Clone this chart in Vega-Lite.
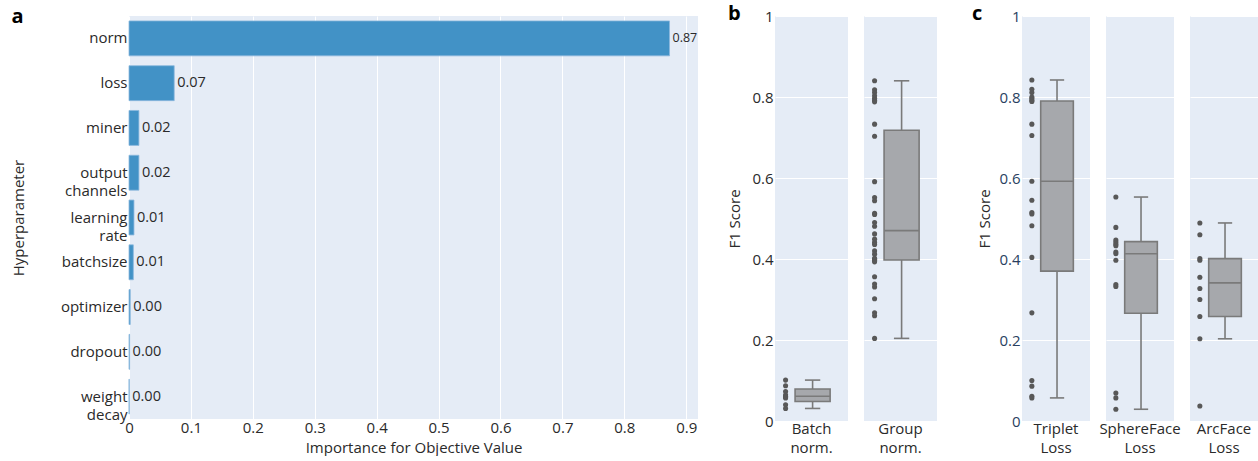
{
  "$schema": "https://vega.github.io/schema/vega-lite/v6.json",
  "background": "white",
  "padding": {"left": 11, "top": 4, "right": 0, "bottom": 0},
  "config": {
    "font": "Open Sans",
    "view": {"fill": "#e5ecf6", "stroke": null},
    "axis": {"labelFont": "Open Sans", "titleFont": "Open Sans", "labelFontSize": 15, "titleFontSize": 15, "labelColor": "#2a2a2a", "titleColor": "#2a2a2a", "domain": false, "ticks": false, "gridColor": "white", "gridWidth": 1, "titleFontWeight": "normal", "labelFlush": false, "labelOverlap": false},
    "title": {"font": "Open Sans", "fontSize": 20, "fontWeight": "bold", "anchor": "start", "frame": "bounds", "color": "black"}
  },
  "spacing": 29,
  "hconcat": [
    {
      "title": {"text": "a", "offset": -11},
      "width": 569,
      "height": 403,
      "data": {"values": [
        {"param": "norm", "importance": 0.873},
        {"param": "loss", "importance": 0.073},
        {"param": "miner", "importance": 0.016},
        {"param": "output channels", "importance": 0.016},
        {"param": "learning rate", "importance": 0.008},
        {"param": "batchsize", "importance": 0.007},
        {"param": "optimizer", "importance": 0.002},
        {"param": "dropout", "importance": 0.001},
        {"param": "weight decay", "importance": 0.0004}
      ]},
      "encoding": {
        "y": {"field": "param", "type": "nominal", "sort": null, "scale": {"paddingInner": 0.22, "paddingOuter": 0.11}, "axis": {"title": "Hyperparameter", "labelExpr": "split(datum.label, ' ')", "labelPadding": 2, "titlePadding": 34, "grid": false, "labelLineHeight": 18}}
      },
      "layer": [
        {
          "mark": {"type": "bar", "color": "#4292c6", "stroke": "#8ab8dd", "strokeWidth": 0.8},
          "encoding": {
            "x": {"field": "importance", "type": "quantitative", "scale": {"domain": [0, 0.919], "nice": false}, "axis": {"title": "Importance for Objective Value", "values": [0, 0.1, 0.2, 0.3, 0.4, 0.5, 0.6, 0.7, 0.8, 0.9], "format": "~g", "grid": true, "labelPadding": 1, "titlePadding": 5}}
          }
        },
        {
          "mark": {"type": "text", "align": "left", "baseline": "middle", "dx": 3, "color": "#2a2a2a", "font": "Open Sans"},
          "encoding": {
            "x": {"field": "importance", "type": "quantitative"},
            "text": {"field": "importance", "format": ".2f"},
            "size": {"condition": {"test": "datum.importance > 0.5", "value": 12.5}, "value": 14.5}
          }
        }
      ]
    },
    {
      "spacing": 34,
      "hconcat": [
        {
          "title": {"text": "b", "offset": -15},
          "data": {"values": [
            {"group": "Batch norm.", "kind": "run", "f1": 0.101},
            {"group": "Batch norm.", "kind": "run", "f1": 0.087},
            {"group": "Batch norm.", "kind": "run", "f1": 0.073},
            {"group": "Batch norm.", "kind": "run", "f1": 0.064},
            {"group": "Batch norm.", "kind": "run", "f1": 0.060},
            {"group": "Batch norm.", "kind": "run", "f1": 0.059},
            {"group": "Batch norm.", "kind": "run", "f1": 0.057},
            {"group": "Batch norm.", "kind": "run", "f1": 0.040},
            {"group": "Batch norm.", "kind": "run", "f1": 0.031},
            {"group": "Batch norm.", "kind": "box", "lo": 0.031, "q1": 0.048, "med": 0.061, "q3": 0.079, "hi": 0.101},
            {"group": "Group norm.", "kind": "run", "f1": 0.840},
            {"group": "Group norm.", "kind": "run", "f1": 0.818},
            {"group": "Group norm.", "kind": "run", "f1": 0.811},
            {"group": "Group norm.", "kind": "run", "f1": 0.803},
            {"group": "Group norm.", "kind": "run", "f1": 0.797},
            {"group": "Group norm.", "kind": "run", "f1": 0.792},
            {"group": "Group norm.", "kind": "run", "f1": 0.788},
            {"group": "Group norm.", "kind": "run", "f1": 0.733},
            {"group": "Group norm.", "kind": "run", "f1": 0.703},
            {"group": "Group norm.", "kind": "run", "f1": 0.591},
            {"group": "Group norm.", "kind": "run", "f1": 0.552},
            {"group": "Group norm.", "kind": "run", "f1": 0.544},
            {"group": "Group norm.", "kind": "run", "f1": 0.513},
            {"group": "Group norm.", "kind": "run", "f1": 0.510},
            {"group": "Group norm.", "kind": "run", "f1": 0.490},
            {"group": "Group norm.", "kind": "run", "f1": 0.481},
            {"group": "Group norm.", "kind": "run", "f1": 0.462},
            {"group": "Group norm.", "kind": "run", "f1": 0.449},
            {"group": "Group norm.", "kind": "run", "f1": 0.441},
            {"group": "Group norm.", "kind": "run", "f1": 0.436},
            {"group": "Group norm.", "kind": "run", "f1": 0.420},
            {"group": "Group norm.", "kind": "run", "f1": 0.412},
            {"group": "Group norm.", "kind": "run", "f1": 0.402},
            {"group": "Group norm.", "kind": "run", "f1": 0.399},
            {"group": "Group norm.", "kind": "run", "f1": 0.396},
            {"group": "Group norm.", "kind": "run", "f1": 0.393},
            {"group": "Group norm.", "kind": "run", "f1": 0.356},
            {"group": "Group norm.", "kind": "run", "f1": 0.338},
            {"group": "Group norm.", "kind": "run", "f1": 0.331},
            {"group": "Group norm.", "kind": "run", "f1": 0.302},
            {"group": "Group norm.", "kind": "run", "f1": 0.267},
            {"group": "Group norm.", "kind": "run", "f1": 0.260},
            {"group": "Group norm.", "kind": "run", "f1": 0.204},
            {"group": "Group norm.", "kind": "box", "lo": 0.204, "q1": 0.3975, "med": 0.470, "q3": 0.718, "hi": 0.840}
          ]},
          "facet": {"column": {"field": "group", "type": "nominal", "sort": ["Batch norm.", "Group norm."], "header": {"title": null, "labelOrient": "bottom", "labelExpr": "split(datum.label, ' ')", "labelFontSize": 15, "labelFont": "Open Sans", "labelColor": "#2a2a2a", "labelPadding": 1, "labelBaseline": "top", "labelLineHeight": 19}}},
          "spacing": 16,
          "spec": {
            "width": 73,
            "height": 405,
            "layer": [
              {
                "transform": [{"filter": "datum.kind === 'box'"}],
                "mark": {"type": "rule", "color": "#7a7a7a", "strokeWidth": 1.6},
                "encoding": {
                  "x": {"datum": 0.515, "type": "quantitative", "scale": {"domain": [0, 1], "nice": false}, "axis": null},
                  "y": {"field": "lo", "type": "quantitative", "scale": {"domain": [0, 1], "nice": false}, "axis": {"title": "F1 Score", "values": [0, 0.2, 0.4, 0.6, 0.8, 1], "format": "~g", "grid": true, "labelPadding": 2, "titlePadding": 9}},
                  "y2": {"field": "hi"}
                }
              },
              {
                "transform": [{"filter": "datum.kind === 'box'"}],
                "mark": {"type": "rule", "color": "#7a7a7a", "strokeWidth": 1.6},
                "encoding": {
                  "x": {"datum": 0.41, "type": "quantitative", "scale": {"domain": [0, 1], "nice": false}, "axis": null},
                  "x2": {"datum": 0.62},
                  "y": {"field": "hi", "type": "quantitative", "scale": {"domain": [0, 1], "nice": false}, "axis": {"title": "F1 Score", "values": [0, 0.2, 0.4, 0.6, 0.8, 1], "format": "~g", "grid": true, "labelPadding": 2, "titlePadding": 9}}
                }
              },
              {
                "transform": [{"filter": "datum.kind === 'box'"}],
                "mark": {"type": "rule", "color": "#7a7a7a", "strokeWidth": 1.6},
                "encoding": {
                  "x": {"datum": 0.41, "type": "quantitative", "scale": {"domain": [0, 1], "nice": false}, "axis": null},
                  "x2": {"datum": 0.62},
                  "y": {"field": "lo", "type": "quantitative", "scale": {"domain": [0, 1], "nice": false}, "axis": {"title": "F1 Score", "values": [0, 0.2, 0.4, 0.6, 0.8, 1], "format": "~g", "grid": true, "labelPadding": 2, "titlePadding": 9}}
                }
              },
              {
                "transform": [{"filter": "datum.kind === 'box'"}],
                "mark": {"type": "bar", "fill": "#a6a8ac", "stroke": "#7a7a7a", "strokeWidth": 1.6},
                "encoding": {
                  "x": {"datum": 0.275, "type": "quantitative", "scale": {"domain": [0, 1], "nice": false}, "axis": null},
                  "x2": {"datum": 0.755},
                  "y": {"field": "q1", "type": "quantitative", "scale": {"domain": [0, 1], "nice": false}, "axis": {"title": "F1 Score", "values": [0, 0.2, 0.4, 0.6, 0.8, 1], "format": "~g", "grid": true, "labelPadding": 2, "titlePadding": 9}},
                  "y2": {"field": "q3"}
                }
              },
              {
                "transform": [{"filter": "datum.kind === 'box'"}],
                "mark": {"type": "rule", "color": "#7a7a7a", "strokeWidth": 1.6},
                "encoding": {
                  "x": {"datum": 0.275, "type": "quantitative", "scale": {"domain": [0, 1], "nice": false}, "axis": null},
                  "x2": {"datum": 0.755},
                  "y": {"field": "med", "type": "quantitative", "scale": {"domain": [0, 1], "nice": false}, "axis": {"title": "F1 Score", "values": [0, 0.2, 0.4, 0.6, 0.8, 1], "format": "~g", "grid": true, "labelPadding": 2, "titlePadding": 9}}
                }
              },
              {
                "transform": [{"filter": "datum.kind === 'run'"}],
                "mark": {"type": "circle", "color": "#585858", "opacity": 1, "size": 26},
                "encoding": {
                  "x": {"datum": 0.145, "type": "quantitative", "scale": {"domain": [0, 1], "nice": false}, "axis": null},
                  "y": {"field": "f1", "type": "quantitative", "scale": {"domain": [0, 1], "nice": false}, "axis": {"title": "F1 Score", "values": [0, 0.2, 0.4, 0.6, 0.8, 1], "format": "~g", "grid": true, "labelPadding": 2, "titlePadding": 9}}
                }
              }
            ]
          }
        },
        {
          "title": {"text": "c", "offset": -15, "dx": -6},
          "data": {"values": [
            {"group": "Triplet Loss", "kind": "run", "f1": 0.842},
            {"group": "Triplet Loss", "kind": "run", "f1": 0.819},
            {"group": "Triplet Loss", "kind": "run", "f1": 0.811},
            {"group": "Triplet Loss", "kind": "run", "f1": 0.800},
            {"group": "Triplet Loss", "kind": "run", "f1": 0.796},
            {"group": "Triplet Loss", "kind": "run", "f1": 0.792},
            {"group": "Triplet Loss", "kind": "run", "f1": 0.789},
            {"group": "Triplet Loss", "kind": "run", "f1": 0.733},
            {"group": "Triplet Loss", "kind": "run", "f1": 0.705},
            {"group": "Triplet Loss", "kind": "run", "f1": 0.592},
            {"group": "Triplet Loss", "kind": "run", "f1": 0.545},
            {"group": "Triplet Loss", "kind": "run", "f1": 0.515},
            {"group": "Triplet Loss", "kind": "run", "f1": 0.511},
            {"group": "Triplet Loss", "kind": "run", "f1": 0.482},
            {"group": "Triplet Loss", "kind": "run", "f1": 0.404},
            {"group": "Triplet Loss", "kind": "run", "f1": 0.267},
            {"group": "Triplet Loss", "kind": "run", "f1": 0.100},
            {"group": "Triplet Loss", "kind": "run", "f1": 0.086},
            {"group": "Triplet Loss", "kind": "run", "f1": 0.061},
            {"group": "Triplet Loss", "kind": "run", "f1": 0.057},
            {"group": "Triplet Loss", "kind": "box", "lo": 0.057, "q1": 0.370, "med": 0.592, "q3": 0.790, "hi": 0.842},
            {"group": "SphereFace Loss", "kind": "run", "f1": 0.553},
            {"group": "SphereFace Loss", "kind": "run", "f1": 0.478},
            {"group": "SphereFace Loss", "kind": "run", "f1": 0.447},
            {"group": "SphereFace Loss", "kind": "run", "f1": 0.442},
            {"group": "SphereFace Loss", "kind": "run", "f1": 0.437},
            {"group": "SphereFace Loss", "kind": "run", "f1": 0.433},
            {"group": "SphereFace Loss", "kind": "run", "f1": 0.417},
            {"group": "SphereFace Loss", "kind": "run", "f1": 0.413},
            {"group": "SphereFace Loss", "kind": "run", "f1": 0.397},
            {"group": "SphereFace Loss", "kind": "run", "f1": 0.337},
            {"group": "SphereFace Loss", "kind": "run", "f1": 0.332},
            {"group": "SphereFace Loss", "kind": "run", "f1": 0.069},
            {"group": "SphereFace Loss", "kind": "run", "f1": 0.057},
            {"group": "SphereFace Loss", "kind": "run", "f1": 0.029},
            {"group": "SphereFace Loss", "kind": "box", "lo": 0.029, "q1": 0.266, "med": 0.413, "q3": 0.443, "hi": 0.553},
            {"group": "ArcFace Loss", "kind": "run", "f1": 0.489},
            {"group": "ArcFace Loss", "kind": "run", "f1": 0.460},
            {"group": "ArcFace Loss", "kind": "run", "f1": 0.401},
            {"group": "ArcFace Loss", "kind": "run", "f1": 0.397},
            {"group": "ArcFace Loss", "kind": "run", "f1": 0.355},
            {"group": "ArcFace Loss", "kind": "run", "f1": 0.327},
            {"group": "ArcFace Loss", "kind": "run", "f1": 0.300},
            {"group": "ArcFace Loss", "kind": "run", "f1": 0.258},
            {"group": "ArcFace Loss", "kind": "run", "f1": 0.203},
            {"group": "ArcFace Loss", "kind": "run", "f1": 0.037},
            {"group": "ArcFace Loss", "kind": "box", "lo": 0.203, "q1": 0.258, "med": 0.341, "q3": 0.401, "hi": 0.489}
          ]},
          "facet": {"column": {"field": "group", "type": "nominal", "sort": ["Triplet Loss", "SphereFace Loss", "ArcFace Loss"], "header": {"title": null, "labelOrient": "bottom", "labelExpr": "split(datum.label, ' ')", "labelFontSize": 15, "labelFont": "Open Sans", "labelColor": "#2a2a2a", "labelPadding": 1, "labelBaseline": "top", "labelLineHeight": 19}}},
          "spacing": 16,
          "spec": {
            "width": 68,
            "height": 405,
            "layer": [
              {
                "transform": [{"filter": "datum.kind === 'box'"}],
                "mark": {"type": "rule", "color": "#7a7a7a", "strokeWidth": 1.6},
                "encoding": {
                  "x": {"datum": 0.515, "type": "quantitative", "scale": {"domain": [0, 1], "nice": false}, "axis": null},
                  "y": {"field": "lo", "type": "quantitative", "scale": {"domain": [0, 1], "nice": false}, "axis": {"title": "F1 Score", "values": [0, 0.2, 0.4, 0.6, 0.8, 1], "format": "~g", "grid": true, "labelPadding": 2, "titlePadding": 6, "labelColor": "#2a3f5f"}},
                  "y2": {"field": "hi"}
                }
              },
              {
                "transform": [{"filter": "datum.kind === 'box'"}],
                "mark": {"type": "rule", "color": "#7a7a7a", "strokeWidth": 1.6},
                "encoding": {
                  "x": {"datum": 0.41, "type": "quantitative", "scale": {"domain": [0, 1], "nice": false}, "axis": null},
                  "x2": {"datum": 0.62},
                  "y": {"field": "hi", "type": "quantitative", "scale": {"domain": [0, 1], "nice": false}, "axis": {"title": "F1 Score", "values": [0, 0.2, 0.4, 0.6, 0.8, 1], "format": "~g", "grid": true, "labelPadding": 2, "titlePadding": 6, "labelColor": "#2a3f5f"}}
                }
              },
              {
                "transform": [{"filter": "datum.kind === 'box'"}],
                "mark": {"type": "rule", "color": "#7a7a7a", "strokeWidth": 1.6},
                "encoding": {
                  "x": {"datum": 0.41, "type": "quantitative", "scale": {"domain": [0, 1], "nice": false}, "axis": null},
                  "x2": {"datum": 0.62},
                  "y": {"field": "lo", "type": "quantitative", "scale": {"domain": [0, 1], "nice": false}, "axis": {"title": "F1 Score", "values": [0, 0.2, 0.4, 0.6, 0.8, 1], "format": "~g", "grid": true, "labelPadding": 2, "titlePadding": 6, "labelColor": "#2a3f5f"}}
                }
              },
              {
                "transform": [{"filter": "datum.kind === 'box'"}],
                "mark": {"type": "bar", "fill": "#a6a8ac", "stroke": "#7a7a7a", "strokeWidth": 1.6},
                "encoding": {
                  "x": {"datum": 0.275, "type": "quantitative", "scale": {"domain": [0, 1], "nice": false}, "axis": null},
                  "x2": {"datum": 0.755},
                  "y": {"field": "q1", "type": "quantitative", "scale": {"domain": [0, 1], "nice": false}, "axis": {"title": "F1 Score", "values": [0, 0.2, 0.4, 0.6, 0.8, 1], "format": "~g", "grid": true, "labelPadding": 2, "titlePadding": 6, "labelColor": "#2a3f5f"}},
                  "y2": {"field": "q3"}
                }
              },
              {
                "transform": [{"filter": "datum.kind === 'box'"}],
                "mark": {"type": "rule", "color": "#7a7a7a", "strokeWidth": 1.6},
                "encoding": {
                  "x": {"datum": 0.275, "type": "quantitative", "scale": {"domain": [0, 1], "nice": false}, "axis": null},
                  "x2": {"datum": 0.755},
                  "y": {"field": "med", "type": "quantitative", "scale": {"domain": [0, 1], "nice": false}, "axis": {"title": "F1 Score", "values": [0, 0.2, 0.4, 0.6, 0.8, 1], "format": "~g", "grid": true, "labelPadding": 2, "titlePadding": 6, "labelColor": "#2a3f5f"}}
                }
              },
              {
                "transform": [{"filter": "datum.kind === 'run'"}],
                "mark": {"type": "circle", "color": "#585858", "opacity": 1, "size": 26},
                "encoding": {
                  "x": {"datum": 0.145, "type": "quantitative", "scale": {"domain": [0, 1], "nice": false}, "axis": null},
                  "y": {"field": "f1", "type": "quantitative", "scale": {"domain": [0, 1], "nice": false}, "axis": {"title": "F1 Score", "values": [0, 0.2, 0.4, 0.6, 0.8, 1], "format": "~g", "grid": true, "labelPadding": 2, "titlePadding": 6, "labelColor": "#2a3f5f"}}
                }
              }
            ]
          }
        }
      ]
    }
  ]
}
